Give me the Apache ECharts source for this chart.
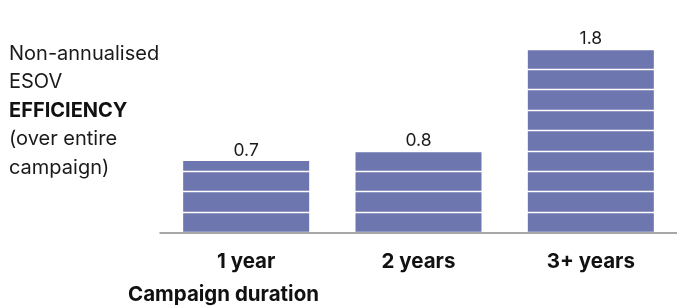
<!DOCTYPE html>
<html lang="en">
<head>
    <meta charset="UTF-8">
    <title>ESOV efficiency by campaign duration</title>
    <script src="https://cdn.jsdelivr.net/npm/echarts@6/dist/echarts.min.js"></script>
    <style>
        body { margin: 0; background: #ffffff; }
        #chart { width: 677px; height: 307px; }
    </style>
</head>
<body>
    <div id="chart"></div>
    <script>
        // Data
        const durations = ['1 year', '2 years', '3+ years'];
        const efficiency = [0.7, 0.8, 1.8];
        const sideLines = ['Non-annualised', 'ESOV', 'EFFICIENCY', '(over entire', 'campaign)'];
        const axisTitle = 'Campaign duration';

        const font = 'Inter, "Noto Sans", sans-serif';
        const chart = echarts.init(document.getElementById('chart'));

        chart.setOption({
            animation: false,
            grid: { left: 160, width: 522, top: 28.5, bottom: 74.5 },
            xAxis: {
                type: 'category',
                data: durations,
                z: 12,
                axisLine: { lineStyle: { color: '#8a8a8a', width: 1.5 } },
                axisTick: { show: false },
                axisLabel: {
                    margin: 18.5,
                    color: '#111111',
                    fontSize: 20.5,
                    fontWeight: 'bold',
                    fontFamily: font
                }
            },
            yAxis: {
                type: 'value',
                min: 0,
                max: 2,
                interval: 0.2,
                z: 10,
                axisLine: { show: false },
                axisTick: { show: false },
                axisLabel: { show: false },
                // white stripes across the bars
                splitLine: { lineStyle: { color: '#ffffff', width: 1.4 } }
            },
            series: [
                {
                    type: 'bar',
                    data: efficiency,
                    barWidth: 126,
                    itemStyle: { color: '#6d76ae' }
                },
                {
                    // transparent copy on top, only for the value labels
                    type: 'bar',
                    data: efficiency,
                    barWidth: 126,
                    barGap: '-100%',
                    z: 20,
                    silent: true,
                    itemStyle: { color: 'rgba(0,0,0,0)' },
                    label: {
                        show: true,
                        position: 'top',
                        distance: 1,
                        color: '#1a1a1a',
                        fontSize: 17.5,
                        fontFamily: font
                    }
                }
            ],
            graphic: [
                {
                    type: 'text',
                    left: 9,
                    top: 43.5,
                    style: {
                        text: sideLines.map((t, i) => i === 2 ? '{b|' + t + '}' : '{n|' + t + '}').join('\n'),
                        rich: {
                            n: { fontSize: 20, lineHeight: 28.5, fill: '#1a1a1a', fontFamily: font },
                            b: { fontSize: 20, lineHeight: 28.5, fill: '#111111', fontWeight: 'bold', fontFamily: font }
                        }
                    }
                },
                {
                    type: 'text',
                    left: 128,
                    top: 284,
                    style: {
                        text: axisTitle,
                        fontSize: 20.5,
                        fontWeight: 'bold',
                        fill: '#111111',
                        fontFamily: font
                    }
                }
            ]
        });
    </script>
</body>
</html>
